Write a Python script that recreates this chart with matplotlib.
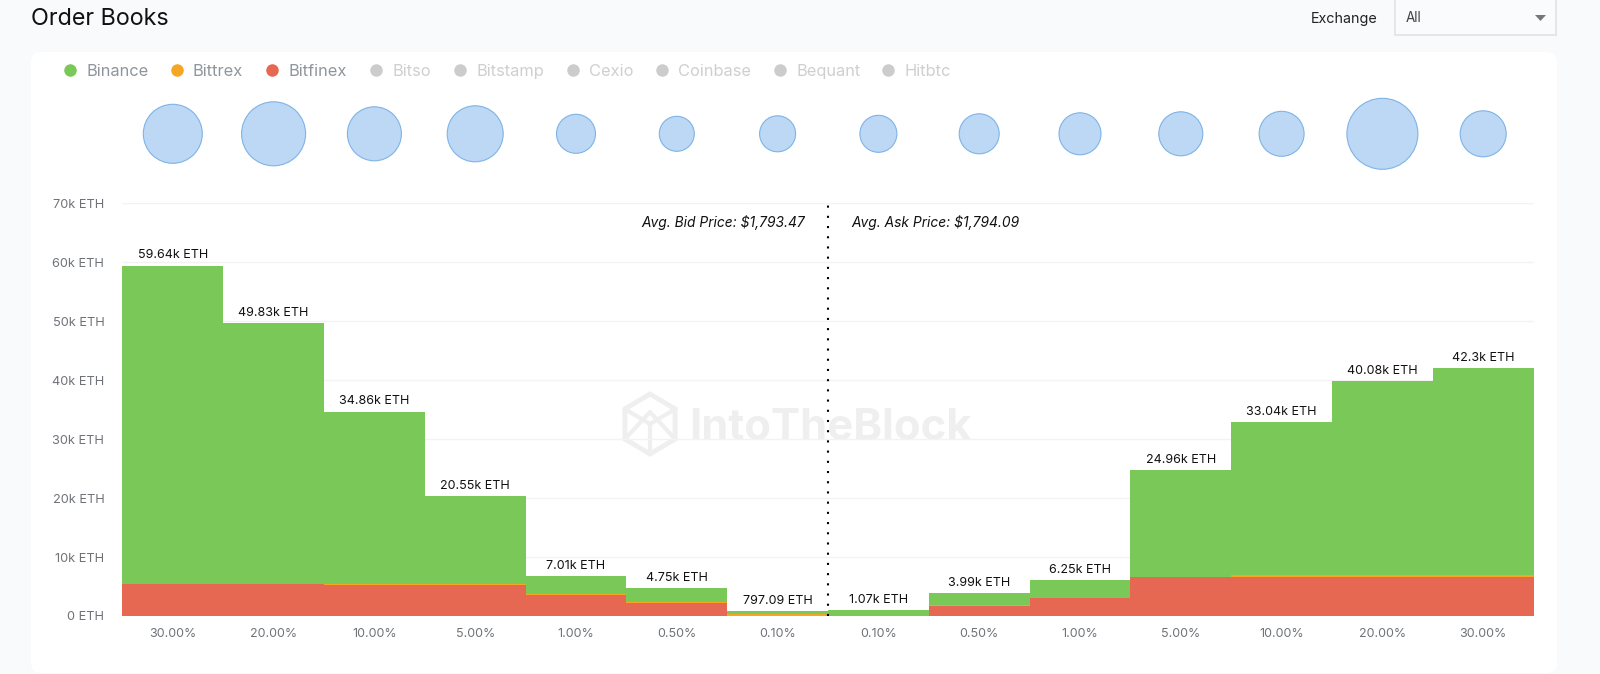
import matplotlib
matplotlib.use('Agg')
import matplotlib.pyplot as plt
import numpy as np
from matplotlib.patches import FancyBboxPatch, Polygon, Rectangle

W, H = 1600, 674

# data
categories = ["30.00%", "20.00%", "10.00%", "5.00%", "1.00%", "0.50%", "0.10%",
              "0.10%", "0.50%", "1.00%", "5.00%", "10.00%", "20.00%", "30.00%"]
bitfinex = [5.40, 5.35, 5.30, 5.30, 3.55, 2.25, 0.05, 0.0, 1.70, 3.10, 6.60, 6.60, 6.60, 6.60]
bittrex = [0.10, 0.10, 0.05, 0.05, 0.20, 0.05, 0.35, 0.0, 0.15, 0.02, 0.02, 0.40, 0.40, 0.40]
binance = [53.94, 44.18, 29.31, 15.00, 3.00, 2.45, 0.40, 1.07, 2.04, 3.03, 18.14, 25.84, 32.88, 35.10]
value_labels = ["59.64k ETH", "49.83k ETH", "34.86k ETH", "20.55k ETH", "7.01k ETH", "4.75k ETH", "797.09 ETH",
                "1.07k ETH", "3.99k ETH", "6.25k ETH", "24.96k ETH", "33.04k ETH", "40.08k ETH", "42.3k ETH"]
bubble_diam = [59, 64, 54, 56, 39, 35, 36, 37, 40, 42, 44, 45, 71, 46]
y_ticks = [0, 10, 20, 30, 40, 50, 60, 70]
y_labels = ["0 ETH", "10k ETH", "20k ETH", "30k ETH", "40k ETH", "50k ETH", "60k ETH", "70k ETH"]
legend_names = ["Binance", "Bittrex", "Bitfinex", "Bitso", "Bitstamp", "Cexio", "Coinbase", "Bequant", "Hitbtc"]
legend_dots = ["#7ac857", "#f5a623", "#e66752", "#cccccc", "#cccccc", "#cccccc", "#cccccc", "#cccccc", "#cccccc"]
legend_text = ["#8f959c", "#8f959c", "#8f959c", "#cfcfcf", "#cfcfcf", "#cfcfcf", "#cfcfcf", "#cfcfcf", "#cfcfcf"]
legend_x = [70, 177, 272, 376, 460, 573, 662, 780, 888]

plt.rcParams['font.family'] = ['Inter', 'Liberation Sans', 'DejaVu Sans']


def px_axes(fig, x0, y0, x1, y1):
    # axes placed by pixel box, y measured from the top
    return fig.add_axes([x0 / W, 1 - y1 / H, (x1 - x0) / W, (y1 - y0) / H])


fig = plt.figure(figsize=(W / 100, H / 100), dpi=100, facecolor="#f8fafc")

# page furniture in pixel coordinates
bg = fig.add_axes([0, 0, 1, 1])
bg.set_xlim(0, W)
bg.set_ylim(H, 0)
bg.axis('off')
bg.add_patch(FancyBboxPatch((31, 52), 1526, 621, boxstyle="round,pad=0,rounding_size=10",
                            fc="white", ec="none"))
bg.text(31, 19, "Order Books", fontsize=16.8, color="#111111", va='center')
bg.text(1311, 18.5, "Exchange", fontsize=10.3, color="#222222", va='center')
bg.add_patch(Rectangle((1395, -2), 161, 37, fc="#f9fbfc", ec="#e3e7ea", lw=1.4))
bg.text(1406, 18, "All", fontsize=9.7, color="#444444", va='center')
bg.add_patch(Polygon([[1535, 15], [1546, 15], [1540.5, 21]], fc="#777777", ec="none"))

for x, name, dot, tc in zip(legend_x, legend_names, legend_dots, legend_text):
    bg.plot(x, 70, 'o', ms=9, color=dot, mec='none')
    bg.text(x + 16, 71.5, name, fontsize=11.8, color=tc, va='center')

# watermark
hex_x = 650 + 29 * np.sin(np.arange(6) * np.pi / 3)
hex_y = 424 - 30 * np.cos(np.arange(6) * np.pi / 3)
bg.add_patch(Polygon(np.column_stack([hex_x, hex_y]), closed=True, fc="none", ec="#efefef", lw=3.5, zorder=1))
bg.plot([hex_x[5], 650, hex_x[1]], [hex_y[5], 424, hex_y[1]], color="#efefef", lw=3, zorder=1)
bg.plot([650, 650], [424, hex_y[3]], color="#efefef", lw=3, zorder=1)
bg.plot([hex_x[4], 650, hex_x[2]], [hex_y[4], 412, hex_y[2]], color="#efefef", lw=3, zorder=1)
bg.text(689, 429, "IntoTheBlock", fontsize=31.3, fontweight='bold', color="#efefef", va='center', zorder=1)

# bubbles
bub = px_axes(fig, 122.4, 87, 1533.6, 177)
bub.patch.set_alpha(0)
bub.axis('off')
bub.set_xlim(-0.5, 13.5)
bub.set_ylim(0, 1)
xs = np.arange(len(categories))
bub.scatter(xs, [0.48] * len(xs), s=[(d * 0.72) ** 2 for d in bubble_diam],
            color="#bcd8f5", edgecolors="#7fb3e6", linewidths=0.8, clip_on=False)

# main stacked chart
ax = px_axes(fig, 122.4, 203.3, 1533.6, 616)
ax.patch.set_alpha(0)
bitfinex = np.array(bitfinex)
bittrex = np.array(bittrex)
binance = np.array(binance)
ax.bar(xs, bitfinex, width=1.0, color="#e66752", lw=0, zorder=3)
ax.bar(xs, bittrex, width=1.0, bottom=bitfinex, color="#f5a623", lw=0, zorder=3)
ax.bar(xs, binance, width=1.0, bottom=bitfinex + bittrex, color="#7ac857", lw=0, zorder=3)

ax.set_xlim(-0.5, 13.5)
ax.set_ylim(0, 70)
ax.set_xticks(xs)
ax.set_xticklabels(categories, fontsize=9, color="#6f7378")
ax.set_yticks(y_ticks)
ax.set_yticklabels(y_labels, fontsize=9.2, color="#6f7378")
ax.tick_params(length=0)
ax.tick_params(axis='x', pad=8.5)
ax.tick_params(axis='y', pad=13)
ax.grid(axis='y', color="#f3f3f3", lw=1, zorder=0)
for s in ax.spines.values():
    s.set_visible(False)

totals = bitfinex + bittrex + binance
for x, t, lab in zip(xs, totals, value_labels):
    ax.annotate(lab, (x, t), xytext=(0, 3), textcoords='offset points', ha='center', va='bottom',
                fontsize=9, color="#111111", zorder=5)

ax.axvline(6.5, color="black", lw=1.5, ls=(0, (1, 3.9)), zorder=6)
ax.annotate("Avg. Bid Price: $1,793.47", (6.5, 66.7), xytext=(-23, 0), textcoords='offset pixels',
            ha='right', va='center', fontsize=9.95, style='italic', color="#111111")
ax.annotate("Avg. Ask Price: $1,794.09", (6.5, 66.7), xytext=(23, 0), textcoords='offset pixels',
            ha='left', va='center', fontsize=9.95, style='italic', color="#111111")

fig.savefig("out.png", dpi=100, facecolor=fig.get_facecolor())
